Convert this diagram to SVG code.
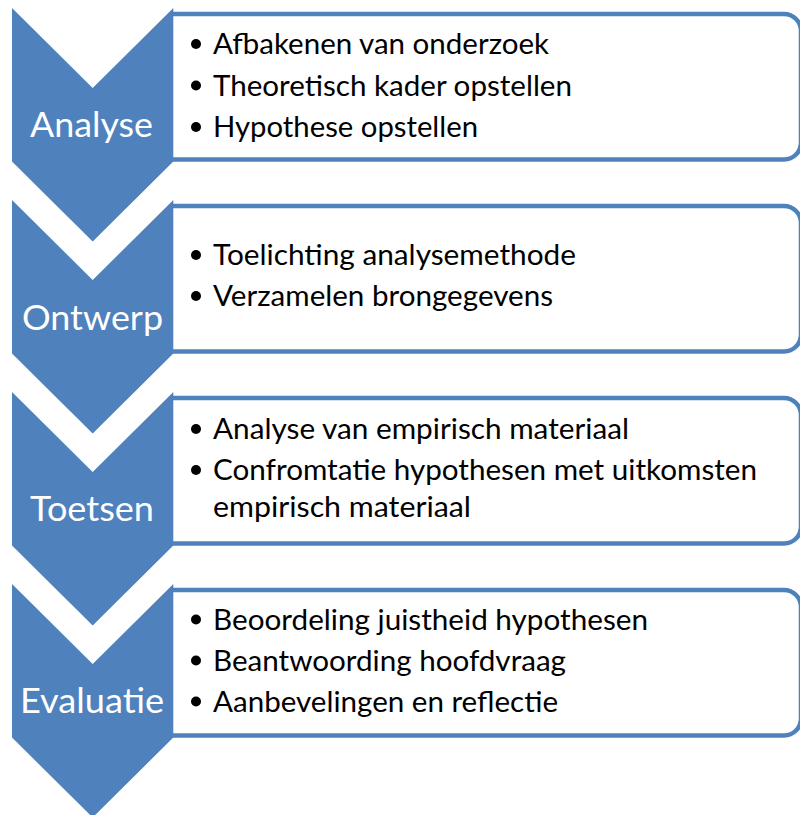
<svg xmlns="http://www.w3.org/2000/svg" width="800" height="815" viewBox="0 0 800 815">
  <style>
    .box { fill: #FFFFFF; stroke: #4F81BD; stroke-width: 4.5; }
    .chev { fill: #4F81BD; }
    .label { font-family: Lato, "Liberation Sans", sans-serif; font-size: 35px; fill: #FFFFFF; }
    .item { font-family: Lato, "Liberation Sans", sans-serif; font-size: 28px; fill: #000000; }
    .dot { fill: #000000; }
  </style>
  <defs>
    <!-- down-pointing chevron, 161 wide, 233 tall -->
    <path id="chevron" d="M12,0 L92.7,80 L173.3,0 L173.3,153.5 L92.7,233.5 L12,153.5 Z"/>
    <!-- detail panel: open on the left where it meets the chevron, rounded right corners -->
    <path id="panel" d="M172,0 H784 A17,17 0 0 1 801,17 V128.5 A17,17 0 0 1 784,145.5 H172"/>
  </defs>

  <!-- connectors: none in this process flow -->
  <g id="connectors"/>

  <g id="step-analyse">
    <use href="#panel" class="box" transform="translate(0,14)"/>
    <use href="#chevron" class="chev" transform="translate(0,8)"/>
    <text class="label" x="30" y="137" textLength="123" lengthAdjust="spacingAndGlyphs">Analyse</text>
    <circle class="dot" cx="196" cy="44" r="5"/>
    <text class="item" x="213" y="54" textLength="336" lengthAdjust="spacingAndGlyphs">Afbakenen van onderzoek</text>
    <circle class="dot" cx="196" cy="85.5" r="5"/>
    <text class="item" x="213" y="95.5" textLength="359" lengthAdjust="spacingAndGlyphs">Theoretisch kader opstellen</text>
    <circle class="dot" cx="196" cy="127" r="5"/>
    <text class="item" x="213" y="137" textLength="265" lengthAdjust="spacingAndGlyphs">Hypothese opstellen</text>
  </g>

  <g id="step-ontwerp">
    <use href="#panel" class="box" transform="translate(0,206)"/>
    <use href="#chevron" class="chev" transform="translate(0,200)"/>
    <text class="label" x="22" y="330" textLength="141" lengthAdjust="spacingAndGlyphs">Ontwerp</text>
    <circle class="dot" cx="196" cy="255" r="5"/>
    <text class="item" x="213" y="265" textLength="363" lengthAdjust="spacingAndGlyphs">Toelichting analysemethode</text>
    <circle class="dot" cx="196" cy="296" r="5"/>
    <text class="item" x="213" y="306" textLength="340" lengthAdjust="spacingAndGlyphs">Verzamelen brongegevens</text>
  </g>

  <g id="step-toetsen">
    <use href="#panel" class="box" transform="translate(0,398)"/>
    <use href="#chevron" class="chev" transform="translate(0,392)"/>
    <text class="label" x="30" y="521" textLength="124" lengthAdjust="spacingAndGlyphs">Toetsen</text>
    <circle class="dot" cx="196" cy="429" r="5"/>
    <text class="item" x="213" y="439" textLength="416" lengthAdjust="spacingAndGlyphs">Analyse van empirisch materiaal</text>
    <circle class="dot" cx="196" cy="470" r="5"/>
    <text class="item" x="213" y="480" textLength="544" lengthAdjust="spacingAndGlyphs">Confromtatie hypothesen met uitkomsten</text>
    <text class="item" x="213" y="517" textLength="258" lengthAdjust="spacingAndGlyphs">empirisch materiaal</text>
  </g>

  <g id="step-evaluatie">
    <use href="#panel" class="box" transform="translate(0,590)"/>
    <use href="#chevron" class="chev" transform="translate(0,584)"/>
    <text class="label" x="20" y="713" textLength="144" lengthAdjust="spacingAndGlyphs">Evaluatie</text>
    <circle class="dot" cx="196" cy="619.5" r="5"/>
    <text class="item" x="213" y="629.5" textLength="435" lengthAdjust="spacingAndGlyphs">Beoordeling juistheid hypothesen</text>
    <circle class="dot" cx="196" cy="660.5" r="5"/>
    <text class="item" x="213" y="670.5" textLength="353" lengthAdjust="spacingAndGlyphs">Beantwoording hoofdvraag</text>
    <circle class="dot" cx="196" cy="701.5" r="5"/>
    <text class="item" x="213" y="711.5" textLength="345" lengthAdjust="spacingAndGlyphs">Aanbevelingen en reflectie</text>
  </g>
</svg>
